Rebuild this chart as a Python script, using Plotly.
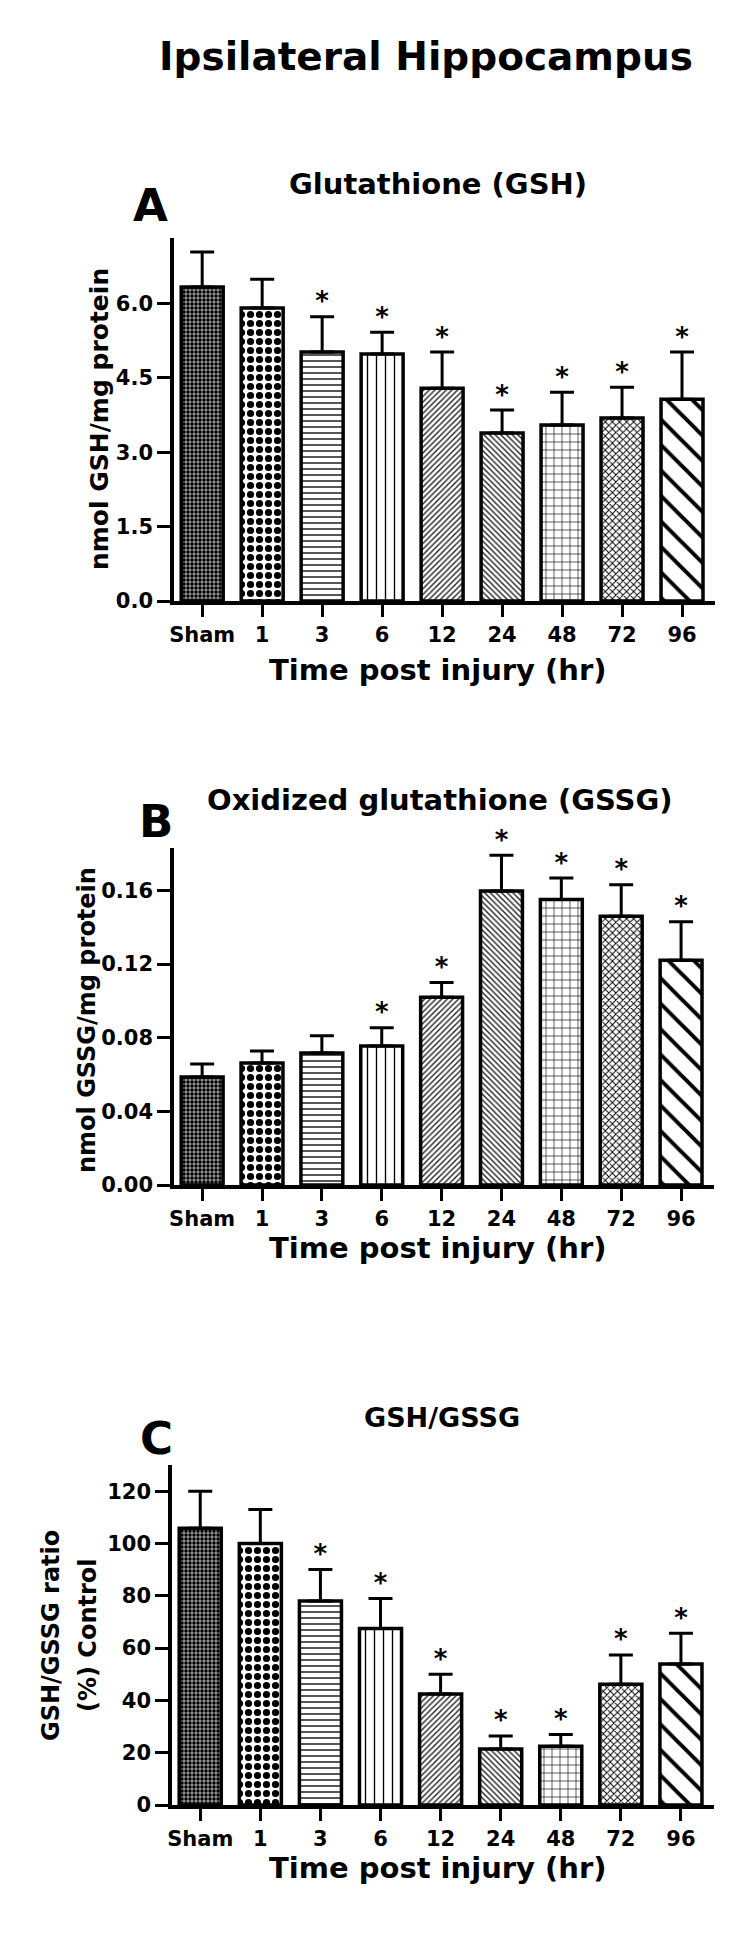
import plotly.graph_objects as go

W, H = 750, 1936
FONT = "DejaVu Sans"

# time points (hr)
times = ["Sham", "1", "3", "6", "12", "24", "48", "72", "96"]

# A: GSH, nmol/mg protein
gsh_mean = [6.33, 5.91, 5.02, 4.98, 4.29, 3.39, 3.55, 3.69, 4.07]
gsh_err = [0.71, 0.58, 0.71, 0.44, 0.73, 0.46, 0.66, 0.62, 0.95]
gsh_sig = [0, 0, 1, 1, 1, 1, 1, 1, 1]

# B: GSSG, nmol/mg protein
gssg_mean = [0.0586, 0.0662, 0.0717, 0.0755, 0.102, 0.1596, 0.155, 0.146, 0.122]
gssg_err = [0.0071, 0.0065, 0.0093, 0.0099, 0.008, 0.0194, 0.0117, 0.017, 0.021]
gssg_sig = [0, 0, 0, 1, 1, 1, 1, 1, 1]

# C: GSH/GSSG ratio, % control
ratio_mean = [105.8, 100.0, 78.0, 67.5, 42.4, 21.4, 22.5, 46.2, 53.9]
ratio_err = [14.2, 13.0, 12.0, 11.5, 7.6, 5.0, 4.5, 11.2, 11.8]
ratio_sig = [0, 0, 1, 1, 1, 1, 1, 1, 1]

# bar fill patterns, one per time point
pat_shape = [".", ".", "-", "|", "/", "\\", "+", "x", "\\"]
pat_size = [4, 9, 6, 9, 4, 4, 8, 5, 18]
pat_solid = [0.55, 0.5, 0.3, 0.15, 0.35, 0.35, 0.15, 0.35, 0.22]
pat_fg = ["black", "black", "#444444", "black", "#222222", "#222222", "black", "black", "black"]
pat_bg = ["#9a9a9a", "white", "white", "white", "white", "white", "white", "white", "white"]


def fx(px):
    return px / W


def fy(py):
    return 1 - py / H


def ann(text, x, y, size, angle=0):
    return dict(text=text, x=fx(x), y=fy(y), xref="paper", yref="paper",
                xanchor="center", yanchor="middle", showarrow=False, textangle=angle,
                font=dict(family=FONT, size=size, color="black", weight="bold"))


panels = [
    dict(mean=gsh_mean, err=gsh_err, sig=gsh_sig, box=(166, 707, 230, 593), ymax=7.32,
         dtick=1.5, fmt=".1f", title="Glutathione (GSH)", tpos=(430, 176), tsize=29,
         letter="A", lpos=(142, 197), ytitles=[("nmol GSH/mg protein", 91, 411, 25)],
         xt_y=662),
    dict(mean=gssg_mean, err=gssg_err, sig=gssg_sig, box=(166, 706, 840, 1177), ymax=0.183,
         dtick=0.04, fmt=".2f", title="Oxidized glutathione (GSSG)", tpos=(432, 792), tsize=29,
         letter="B", lpos=(148, 814), ytitles=[("nmol GSSG/mg protein", 79, 1012, 24)],
         xt_y=1240),
    dict(mean=ratio_mean, err=ratio_err, sig=ratio_sig, box=(164, 706, 1457, 1797), ymax=130,
         dtick=20, fmt="d", title="GSH/GSSG", tpos=(434, 1409), tsize=27,
         letter="C", lpos=(148, 1430),
         ytitles=[("GSH/GSSG ratio", 43, 1628, 24), ("(%) Control", 80, 1627, 24)],
         xt_y=1860),
]

fig = go.Figure()
annotations = [ann("Ipsilateral Hippocampus", 418, 48, 39)]
layout_axes = {}

for i, p in enumerate(panels, start=1):
    sfx = "" if i == 1 else str(i)
    xa, ya = "x" + sfx, "y" + sfx
    fig.add_trace(go.Bar(
        x=times, y=p["mean"], width=0.7, xaxis=xa, yaxis=ya,
        marker=dict(color="white", line=dict(color="black", width=3.5),
                    pattern=dict(shape=pat_shape, size=pat_size, solidity=pat_solid,
                                 fgcolor=pat_fg, bgcolor=pat_bg, fillmode="replace")),
        error_y=dict(type="data", symmetric=False, array=p["err"], arrayminus=[0] * 9,
                     thickness=3, width=12, color="black"),
        showlegend=False, hoverinfo="skip"))
    sx = [t for t, s in zip(times, p["sig"]) if s]
    sy = [m + e for m, e, s in zip(p["mean"], p["err"], p["sig"]) if s]
    fig.add_trace(go.Scatter(
        x=sx, y=sy, mode="text", text="*", textposition="top center", xaxis=xa, yaxis=ya,
        textfont=dict(family=FONT, size=26, color="black", weight="bold"),
        cliponaxis=False, showlegend=False, hoverinfo="skip"))

    x0, x1, y0, y1 = p["box"]
    tick_font = dict(family=FONT, size=21, color="black", weight="bold")
    layout_axes["xaxis" + sfx] = dict(
        domain=[fx(x0), fx(x1)], anchor=ya, type="category", range=[-0.47, 8.55],
        showline=True, linewidth=3.5, linecolor="black", ticks="outside", ticklen=12,
        tickwidth=3, tickcolor="black", showgrid=False, zeroline=False, tickfont=tick_font,
        automargin=False)
    layout_axes["yaxis" + sfx] = dict(
        domain=[fy(y1), fy(y0)], anchor=xa, range=[0, p["ymax"]], dtick=p["dtick"], tick0=0,
        tickformat=p["fmt"], showline=True, linewidth=3.5, linecolor="black",
        ticks="outside", ticklen=13, tickwidth=3, tickcolor="black", showgrid=False,
        zeroline=False, tickfont=tick_font, automargin=False)

    annotations.append(ann(p["title"], *p["tpos"], p["tsize"]))
    annotations.append(ann(p["letter"], *p["lpos"], 45))
    annotations.append(ann("Time post injury (hr)", 430, p["xt_y"], 29))
    for txt, tx, ty, ts in p["ytitles"]:
        annotations.append(ann(txt, tx, ty, ts, angle=-90))

fig.update_layout(
    width=W, height=H, margin=dict(l=0, r=0, t=0, b=0),
    paper_bgcolor="white", plot_bgcolor="white", showlegend=False,
    annotations=annotations, **layout_axes)

fig.write_html("out.html")
